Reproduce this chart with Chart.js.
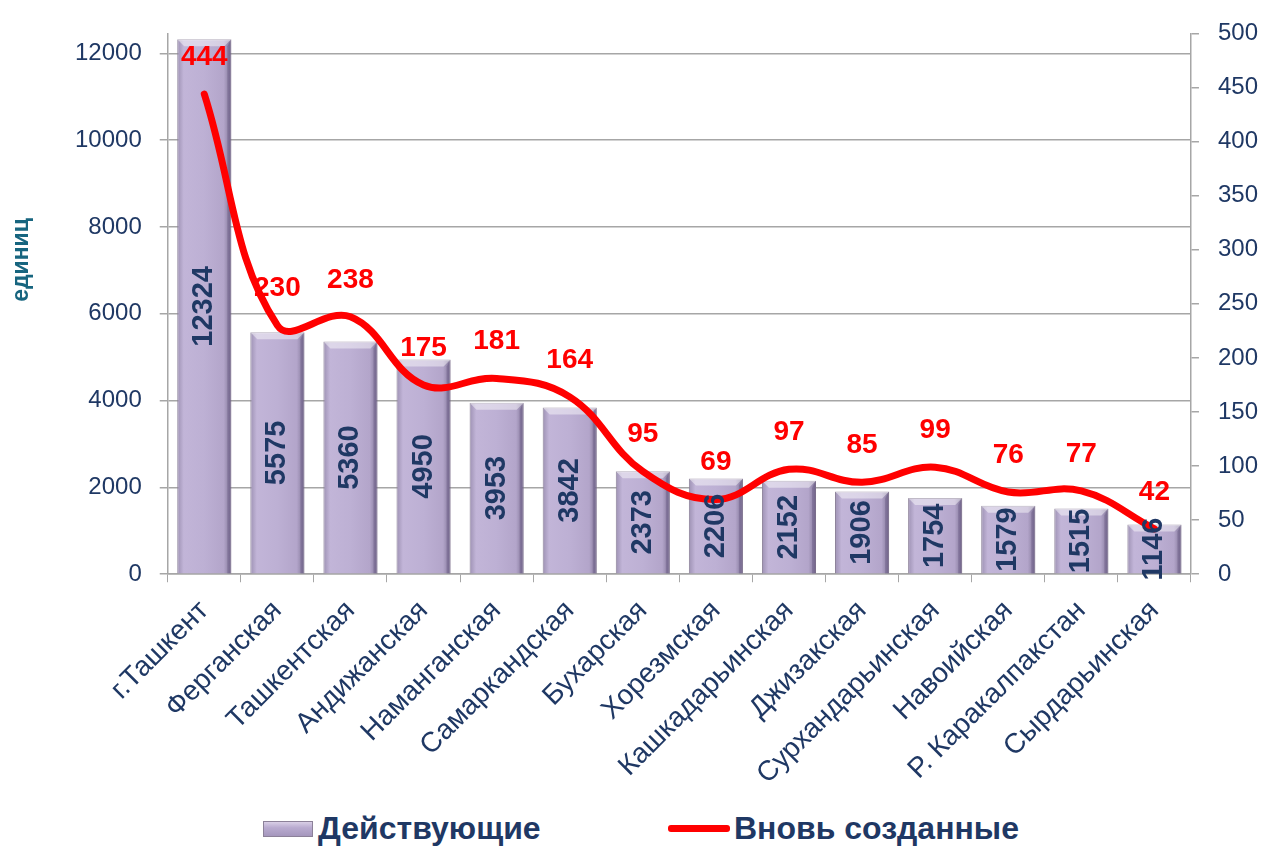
<!DOCTYPE html>
<html>
<head>
<meta charset="utf-8">
<script src="https://cdn.jsdelivr.net/npm/chart.js@4/dist/chart.umd.min.js"></script>
<style>
  body { margin: 0; background: #fff; font-family: "Liberation Sans", Arial, sans-serif; }
  #wrap { position: relative; width: 1263px; height: 846px; }
  #chartBox { position: absolute; left: 0; top: 0; width: 1263px; height: 808px; }
  .leg { position: absolute; top: 810px; display: flex; align-items: center;
         font-weight: bold; font-size: 32px; color: #1f3864; white-space: nowrap; }
  .swBar { width: 50px; height: 16px; margin-right: 5px;
           background: linear-gradient(#d9cfe6, #b9abd0 40%, #a597bd);
           border: 1px solid #8c8199; box-sizing: border-box; }
  .swLine { width: 62px; height: 7px; margin-right: 4px; background: #ff0000; border-radius: 3px; }
</style>
</head>
<body>
<div id="wrap">
  <div id="chartBox"><canvas id="c"></canvas></div>
  <div class="leg" style="left:263px"><span class="swBar"></span>Действующие</div>
  <div class="leg" style="left:668px"><span class="swLine"></span>Вновь созданные</div>
</div>
<script>
// ── Données ──────────────────────────────────────────────────────────────────
const regions = [
  'г.Ташкент', 'Ферганская', 'Ташкентская', 'Андижанская', 'Наманганская',
  'Самаркандская', 'Бухарская', 'Хорезмская', 'Кашкадарьинская', 'Джизакская',
  'Сурхандарьинская', 'Навоийская', 'Р. Каракалпакстан', 'Сырдарьинская'
];
const activeCounts = [12324, 5575, 5360, 4950, 3953, 3842, 2373, 2206, 2152, 1906, 1754, 1579, 1515, 1146];
const newCounts    = [444, 230, 238, 175, 181, 164, 95, 69, 97, 85, 99, 76, 77, 42];
const leftTicks    = [0, 2000, 4000, 6000, 8000, 10000, 12000];

const NAVY = '#1f3864';
const GRID = '#a6a6a6';
const FONT = '"Liberation Sans", Arial, sans-serif';

// dégradé horizontal par barre (effet relief)
function barFill(ctx) {
  const chart = ctx.chart;
  if (!chart.chartArea || ctx.type !== 'data') return '#bcaed3';
  const x = chart.scales.x.getPixelForValue(ctx.dataIndex);
  const w = 27;
  const g = chart.ctx.createLinearGradient(x - w, 0, x + w, 0);
  g.addColorStop(0, '#9d91b3');
  g.addColorStop(0.12, '#c2b5d8');
  g.addColorStop(0.5, '#bdb0d4');
  g.addColorStop(0.86, '#b3a5ca');
  g.addColorStop(1, '#7f7496');
  return g;
}

// biseau sur le haut des barres
const bevel = {
  id: 'bevel',
  afterDatasetDraw(chart, args) {
    if (args.meta.type !== 'bar') return;
    const c = chart.ctx;
    const b = 7;
    args.meta.data.forEach((bar) => {
      const x0 = bar.x - bar.width / 2, x1 = bar.x + bar.width / 2;
      const y0 = bar.y, yb = bar.base;
      c.save();
      c.fillStyle = 'rgba(255,255,255,0.45)';
      c.beginPath();
      c.moveTo(x0, y0); c.lineTo(x1, y0); c.lineTo(x1 - b, y0 + b); c.lineTo(x0 + b, y0 + b);
      c.closePath(); c.fill();
      c.fillStyle = 'rgba(60,40,90,0.22)';
      c.beginPath();
      c.moveTo(x1, y0); c.lineTo(x1, yb); c.lineTo(x1 - 4, yb); c.lineTo(x1 - 4, y0 + b);
      c.closePath(); c.fill();
      c.restore();
    });
  }
};

// étiquettes de valeurs
const valueLabels = {
  id: 'valueLabels',
  afterDatasetsDraw(chart) {
    const c = chart.ctx;
    const barMeta = chart.getDatasetMeta(1);
    const lineMeta = chart.getDatasetMeta(0);
    c.save();
    c.textAlign = 'center';
    c.textBaseline = 'middle';
    c.font = 'bold 29px ' + FONT;
    c.fillStyle = NAVY;
    barMeta.data.forEach((bar, i) => {
      c.save();
      c.translate(bar.x, (bar.y + bar.base) / 2);
      c.rotate(-Math.PI / 2);
      c.fillText(String(activeCounts[i]), 0, 0);
      c.restore();
    });
    c.font = 'bold 28px ' + FONT;
    c.fillStyle = '#ff0000';
    lineMeta.data.forEach((pt, i) => {
      c.fillText(String(newCounts[i]), pt.x, pt.y - 37);
    });
    c.restore();
  },
  afterDraw(chart) {
    const c = chart.ctx;
    c.save();
    c.translate(22, 260);
    c.rotate(-Math.PI / 2);
    c.font = 'bold 23px ' + FONT;
    c.fillStyle = '#17657f';
    c.textAlign = 'center';
    c.textBaseline = 'middle';
    c.fillText('единиц', 0, 0);
    c.restore();
  }
};

new Chart(document.getElementById('c'), {
  type: 'bar',
  data: {
    labels: regions,
    datasets: [
      {
        type: 'line',
        label: 'Вновь созданные',
        data: newCounts,
        yAxisID: 'y1',
        borderColor: '#ff0000',
        borderWidth: 7,
        borderCapStyle: 'round',
        tension: 0.4,
        pointRadius: 0,
        fill: false,
        order: 0,
      },
      {
        label: 'Действующие',
        data: activeCounts,
        yAxisID: 'y',
        backgroundColor: barFill,
        borderColor: '#8c8199',
        borderWidth: 1,
        barPercentage: 0.74,
        categoryPercentage: 1,
        order: 1,
      },
    ],
  },
  options: {
    responsive: true,
    maintainAspectRatio: false,
    animation: false,
    layout: { padding: { left: 57, right: -14, top: 8, bottom: 5 } },
    plugins: { legend: { display: false }, tooltip: { enabled: false } },
    scales: {
      x: {
        grid: { drawOnChartArea: false, tickLength: 8, color: GRID, offset: true },
        border: { color: GRID, width: 1.5 },
        ticks: {
          autoSkip: false, maxRotation: 45, minRotation: 45,
          color: NAVY, font: { family: FONT, size: 28 }, padding: 12,
        },
      },
      y: {
        position: 'left',
        min: 0,
        max: 12460,
        afterBuildTicks: (scale) => { scale.ticks = leftTicks.map((v) => ({ value: v })); },
        grid: { color: GRID, lineWidth: 1.5, tickLength: 8 },
        border: { color: GRID, width: 1.5 },
        ticks: { color: NAVY, font: { family: FONT, size: 24 }, padding: 18, callback: (v) => String(v) },
      },
      y1: {
        position: 'right',
        min: 0,
        max: 500,
        ticks: { stepSize: 50, color: NAVY, font: { family: FONT, size: 24 }, padding: 19, callback: (v) => String(v) },
        grid: { drawOnChartArea: false, tickLength: 8, color: GRID, lineWidth: 1.5 },
        border: { color: GRID, width: 1.5 },
      },
    },
  },
  plugins: [bevel, valueLabels],
});
</script>
</body>
</html>
